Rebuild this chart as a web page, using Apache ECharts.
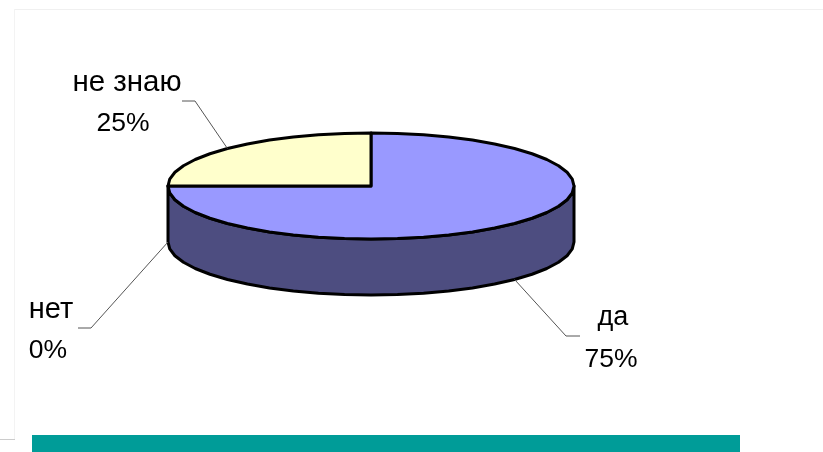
<!DOCTYPE html>
<html>
<head>
<meta charset="utf-8">
<style>html,body{margin:0;padding:0;background:#fff}#c{width:823px;height:452px}</style>
<script src="https://cdn.jsdelivr.net/npm/echarts@6/dist/echarts.min.js"></script>
</head>
<body>
<div id="c"></div>
<script>
const categories = ['да', 'нет', 'не знаю'];
const shares = [75, 0, 25];
const topColors = ['#9999ff', '#993366', '#ffffcc'];
const sideColors = ['#4d4d80', '#4d1a33', '#808066'];

// Layout of the tilted disc and of the label callouts (not data).
const disc = { cx: 371, cy: 186, rx: 203, ry: 53, depth: 56 };
const callouts = [
  { elbow: [566, 336], end: [580, 336], onSide: true, name: [613, 318], nameSize: 27, pct: [611, 360] },
  { elbow: [91, 328], end: [78, 328], onSide: true, name: [51, 310], nameSize: 29, pct: [48, 351] },
  { elbow: [195, 101], end: [182, 101], onSide: false, name: [127, 83], nameSize: 29.5, pct: [123, 124] }
];

const total = shares.reduce((a, b) => a + b, 0);
const FAMILY = '"Liberation Sans", Arial, sans-serif';

function rimPoint(deg, dy) {
  const a = deg * Math.PI / 180;
  return [disc.cx + disc.rx * Math.sin(a), disc.cy - disc.ry * Math.cos(a) + (dy || 0)];
}
function arc(from, to, dy) {
  const pts = [];
  const n = Math.max(1, Math.ceil(Math.abs(to - from) / 7.5));
  for (let i = 0; i <= n; i++) pts.push(rimPoint(from + (to - from) * i / n, dy));
  return pts;
}
function startAngle(i) {
  let s = 0;
  for (let k = 0; k < i; k++) s += shares[k];
  return s / total * 360;
}

function renderSlice(params, api) {
  const i = params.dataIndex;
  const value = api.value(1);
  const from = startAngle(i);
  const to = from + value / total * 360;
  const mid = (from + to) / 2;
  const children = [];
  const edge = { stroke: '#000', lineWidth: 3, lineJoin: 'round' };

  if (value > 0) {
    const sFrom = Math.max(from, 90), sTo = Math.min(to, 270);
    if (sTo > sFrom) {
      const side = arc(sFrom, sTo, 0).concat(arc(sTo, sFrom, disc.depth));
      children.push({ type: 'polygon', shape: { points: side },
        style: Object.assign({ fill: sideColors[i] }, edge) });
    }
    const top = [[disc.cx, disc.cy]].concat(arc(from, to, 0));
    children.push({ type: 'polygon', shape: { points: top },
      style: Object.assign({ fill: topColors[i] }, edge) });
  }

  const c = callouts[i];
  const anchor = rimPoint(mid, c.onSide ? disc.depth : 0);
  children.push({ type: 'polyline', shape: { points: [anchor, c.elbow, c.end] },
    style: { stroke: '#555', lineWidth: 1, fill: null } });
  const text = (t, p, size) => ({ type: 'text', style: {
    text: t, x: p[0], y: p[1], fill: '#000', font: size + 'px ' + FAMILY,
    textAlign: 'center', textVerticalAlign: 'middle' } });
  children.push(text(categories[i], c.name, c.nameSize));
  children.push(text(Math.round(value / total * 100) + '%', c.pct, 26.5));
  return { type: 'group', children };
}

const chart = echarts.init(document.getElementById('c'), null, { renderer: 'canvas' });
chart.setOption({
  animation: false,
  backgroundColor: '#ffffff',
  graphic: [
    { type: 'line', silent: true, shape: { x1: 15, y1: 9.5, x2: 823, y2: 9.5 }, style: { stroke: '#f0f0f0', lineWidth: 1 } },
    { type: 'line', silent: true, shape: { x1: 14.5, y1: 9, x2: 14.5, y2: 439 }, style: { stroke: '#f3f3f3', lineWidth: 1 } },
    { type: 'line', silent: true, shape: { x1: 0, y1: 439.5, x2: 15, y2: 439.5 }, style: { stroke: '#cccccc', lineWidth: 1 } },
    { type: 'rect', silent: true, shape: { x: 32, y: 435, width: 708, height: 17 }, style: { fill: '#009c98' } }
  ],
  series: [{
    type: 'custom',
    coordinateSystem: 'none',
    renderItem: renderSlice,
    data: categories.map((c, i) => [c, shares[i]])
  }]
});
</script>
</body>
</html>
